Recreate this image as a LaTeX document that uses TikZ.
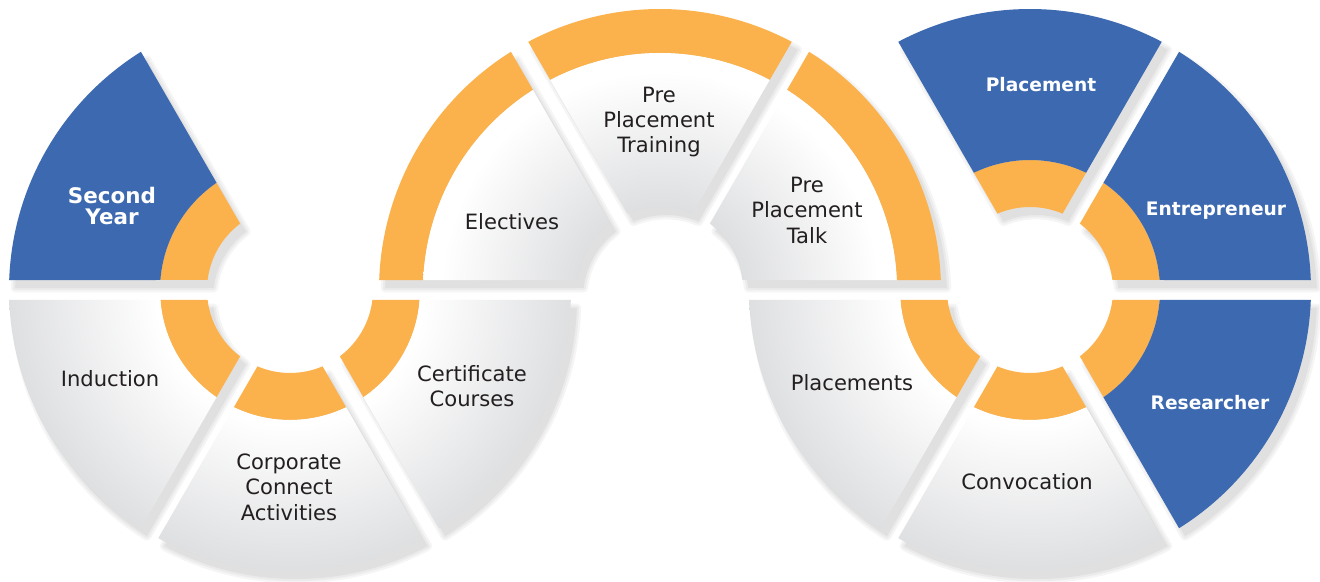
\documentclass[tikz,border=0pt]{standalone}
\usepackage{fontspec}
\setmainfont{DejaVu Sans}
\definecolor{cblue}{RGB}{60,105,176}
\definecolor{corange}{RGB}{251,178,76}
\definecolor{shgray}{RGB}{222,223,225}
\definecolor{ctext}{RGB}{35,31,32}
% 1 picture unit = 0.02cm = 0.567bp
\pgfdeclareradialshading{ringout}{\pgfpointorigin}{color(0bp)=(white); color(76bp)=(white); color(160bp)=(shgray); color(170bp)=(shgray)}
\pgfdeclareradialshading{ringin}{\pgfpointorigin}{color(0bp)=(shgray); color(47bp)=(shgray); color(124bp)=(white); color(170bp)=(white)}
\def\gapd{10}
% #1 options, #2 cx, #3 cy, #4 inner r, #5 outer r, #6 start angle, #7 end angle
\newcommand\sectpath[7][]{%
  \pgfmathsetmacro\sOA{#6+asin(\gapd/#5)}%
  \pgfmathsetmacro\sOB{#7-asin(\gapd/#5)}%
  \pgfmathsetmacro\sIA{#7-asin(\gapd/#4)}%
  \pgfmathsetmacro\sIB{#6+asin(\gapd/#4)}%
  \path[#1] ({#2+#5*cos(\sOA)},{#3+#5*sin(\sOA)}) arc[start angle=\sOA, end angle=\sOB, radius=#5]
    -- ({#2+#4*cos(\sIA)},{#3+#4*sin(\sIA)}) arc[start angle=\sIA, end angle=\sIB, radius=#4] -- cycle;}
\newcommand\shadedsect[8][]{% #8 shading name
  \begin{scope}\sectpath[clip]{#2}{#3}{#4}{#5}{#6}{#7}
  \node[inner sep=0pt, outer sep=0pt] at (#2,#3) {\pgfuseshading{#8}};\end{scope}}
\newcommand\allsectors{%
  \S{290}{292}{83}{281}{120}{180}%
  \S{290}{292}{83}{281}{180}{240}%
  \S{290}{292}{83}{281}{240}{300}%
  \S{290}{292}{83}{281}{300}{360}%
  \S{660}{292}{83}{281}{120}{180}%
  \S{660}{292}{83}{281}{60}{120}%
  \S{660}{292}{83}{281}{0}{60}%
  \S{1030}{292}{83}{281}{60}{120}%
  \S{1030}{292}{83}{281}{0}{60}%
  \S{1030}{292}{83}{281}{180}{240}%
  \S{1030}{292}{83}{281}{240}{300}%
  \S{1030}{292}{83}{281}{300}{360}}
\begin{document}
\begin{tikzpicture}[x=0.02cm,y=0.02cm,
  shadowA/.style={fill=black!4, draw=black!4, line width=5pt, line join=round, shift={(6,-8)}},
  shadowB/.style={fill=black!8, draw=black!8, line width=2.5pt, line join=round, shift={(6,-8)}},
  shadowC/.style={fill=black!12, shift={(6,-8)}},
  lbl/.style={font=\fontsize{12}{14.5}\selectfont, text=ctext, align=center},
  blbl/.style={font=\bfseries\fontsize{10.6}{12.6}\selectfont, text=white, align=center}]
\useasboundingbox (0,0) rectangle (1320,582);
\fill[white] (0,0) rectangle (1320,582);
% shadows
\def\S#1#2#3#4#5#6{\sectpath[shadowA]{#1}{#2}{#3}{#4}{#5}{#6}}\allsectors
\def\S#1#2#3#4#5#6{\sectpath[shadowB]{#1}{#2}{#3}{#4}{#5}{#6}}\allsectors
\def\S#1#2#3#4#5#6{\sectpath[shadowC]{#1}{#2}{#3}{#4}{#5}{#6}}\allsectors
% left circle
\sectpath[fill=corange]{290}{292}{83}{130}{120}{180}
\sectpath[fill=cblue]{290}{292}{130}{281}{120}{180}
\foreach \a/\b in {180/240,240/300,300/360}{
  \sectpath[fill=corange]{290}{292}{83}{130}{\a}{\b}
  \shadedsect{290}{292}{130}{281}{\a}{\b}{ringout}}
% middle circle
\foreach \a/\b in {120/180,60/120,0/60}{
  \sectpath[fill=corange]{660}{292}{237}{281}{\a}{\b}
  \shadedsect{660}{292}{83}{237}{\a}{\b}{ringin}}
% right circle
\foreach \a/\b in {60/120,0/60,300/360}{
  \sectpath[fill=corange]{1030}{292}{83}{130}{\a}{\b}
  \sectpath[fill=cblue]{1030}{292}{130}{281}{\a}{\b}}
\foreach \a/\b in {180/240,240/300}{
  \sectpath[fill=corange]{1030}{292}{83}{130}{\a}{\b}
  \shadedsect{1030}{292}{130}{281}{\a}{\b}{ringout}}
% labels
\node[blbl, font=\bfseries\fontsize{12.2}{12.2}\selectfont] (second) at (112,376) {Second\\Year};
\node[lbl] (induction) at (110,203) {Induction};
\node[lbl] (corporate) at (289,95) {Corporate\\Connect\\Activities};
\node[lbl] (certificate) at (472,196) {Certificate\\Courses};
\node[lbl] (electives) at (512,360) {Electives};
\node[lbl] (training) at (659,460) {Pre\\Placement\\Training};
\node[lbl] (talk) at (807,372) {Pre\\Placement\\Talk};
\node[lbl] (placements) at (852,199) {Placements};
\node[lbl] (convocation) at (1027,100) {Convocation};
\node[blbl] (placement) at (1041,497) {Placement};
\node[blbl] (entrepreneur) at (1216,371) {Entrepreneur};
\node[blbl] (researcher) at (1210,179) {Researcher};
\end{tikzpicture}
\end{document}
